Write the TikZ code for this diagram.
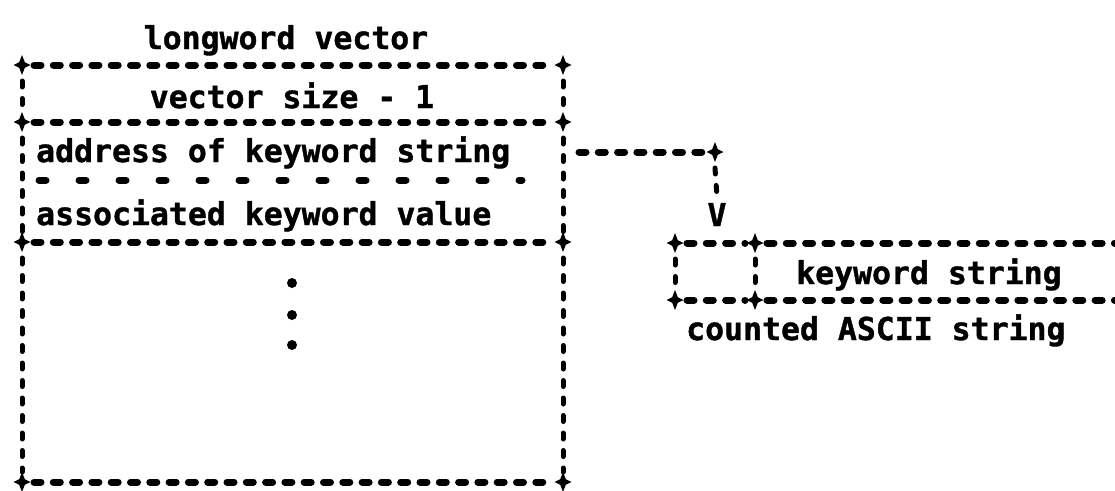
\documentclass[tikz,border=0pt]{standalone}
\usepackage{fontspec}
\setmainfont{DejaVu Sans Mono}[BoldFeatures={FakeBold=1.2}]
\usetikzlibrary{calc}
\tikzset{
  hb/.style={line width=7pt, line cap=round, dash pattern=on 7pt off 12.3pt},
  vb/.style={line width=5pt, line cap=round, dash pattern=on 6pt off 11.5pt},
  midrule/.style={line width=7pt, line cap=round, dash pattern=on 7pt off 33pt},
  lbl/.style={font=\fontsize{31.5}{32}\selectfont\bfseries, inner sep=0pt, anchor=base},
  lblw/.style={lbl, anchor=base west},
  dot/.style={circle, fill, inner sep=0pt, minimum size=10pt},
  crn/.pic={\fill (-8.5,0) -- (-2.8,-2.8) -- (0,-10) -- (2.8,-2.8) -- (8.5,0) -- (2.8,2.8) -- (0,10) -- (-2.8,2.8) -- cycle;}
}
\begin{document}
\begin{tikzpicture}[x=1pt,y=-1pt]
\useasboundingbox (0,0) rectangle (1115,490);
% left box corners
\coordinate (A1) at (22,65);  \coordinate (A2) at (563,65);
\coordinate (B1) at (22,122); \coordinate (B2) at (563,122);
\coordinate (C1) at (22,242); \coordinate (C2) at (563,242);
\coordinate (D1) at (22,482); \coordinate (D2) at (563,482);
% texts
\node[lbl] (title) at (286,49) {longword vector};
\node[lbl] (vsz) at (292,108) {vector size - 1};
\node[lblw] (addr) at (36,162) {address of keyword string};
\node[lblw] (assoc) at (36,225) {associated keyword value};
\node[dot] (d1) at (292,283) {};
\node[dot] (d2) at (292,315) {};
\node[dot] (d3) at (292,345) {};
% horizontal borders
\foreach \a/\b in {A1/A2,B1/B2,C1/C2,D1/D2}{
  \draw[hb] ($(\a)+(12,0)$) -- ($(\b)+(-10,0)$);
  \pic at (\a) {crn}; \pic at (\b) {crn};
}
% vertical borders
\foreach \a/\b in {A1/B1,A2/B2,B1/C1,B2/C2,C1/D1,C2/D2}{
  \draw[vb] ($(\a)+(0,16)$) -- ($(\b)+(0,-10)$);
}
% middle dashed row
\draw[midrule] (39,180) -- (522,180);
% connector
\coordinate (cs) at (579,152);
\coordinate (ck) at (715,152);
\node[lbl] (V) at (717,226) {V};
\draw[hb] (cs) -- ($(ck)+(-10,0)$);
\pic at (ck) {crn};
\draw[vb] ($(ck)+(0,16)$) -- ($(V.north)+(0,-6)$);
% right box
\coordinate (E1) at (675,243); \coordinate (E2) at (755,243); \coordinate (E3) at (1115,243);
\coordinate (F1) at (675,300); \coordinate (F2) at (755,300); \coordinate (F3) at (1115,300);
\foreach \a/\b in {E1/E2,F1/F2}{
  \draw[hb] ($(\a)+(12,0)$) -- ($(\b)+(-10,0)$);
}
\foreach \a/\b in {E2/E3,F2/F3}{
  \draw[hb] ($(\a)+(12,0)$) -- (\b);
}
\foreach \p in {E1,E2,F1,F2}{ \pic at (\p) {crn}; }
\draw[vb] ($(E1)+(0,16)$) -- ($(F1)+(0,-10)$);
\draw[vb] ($(E2)+(0,16)$) -- ($(F2)+(0,-10)$);
\node[lblw] (kw) at (796,284) {keyword string};
\node[lblw] (cas) at (686,340) {counted ASCII string};
\end{tikzpicture}
\end{document}
